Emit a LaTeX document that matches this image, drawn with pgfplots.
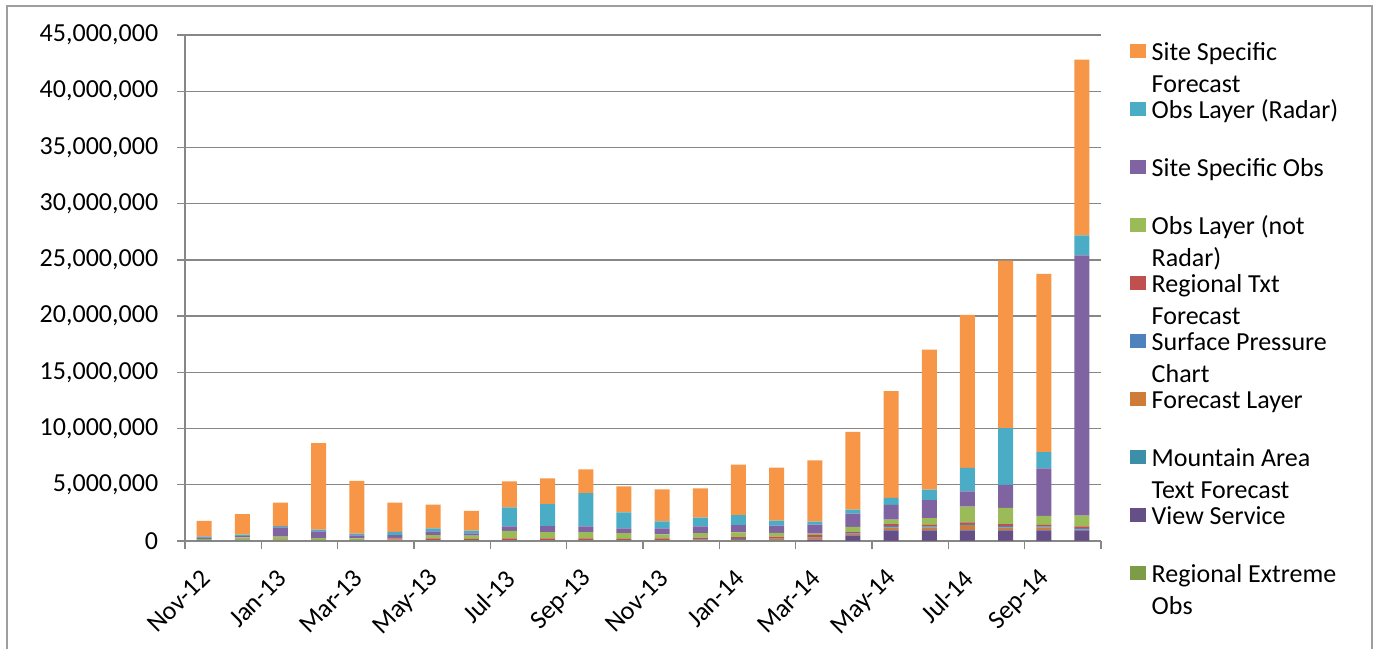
\documentclass[border=0pt]{standalone}
\usepackage{pgfplots}
\pgfplotsset{compat=1.18}
\usepackage{pgfplotstable}
\usepackage{fontspec}
\setmainfont{Carlito}
\definecolor{cSSF}{HTML}{F79646}
\definecolor{cRAD}{HTML}{4BACC6}
\definecolor{cSSO}{HTML}{8064A2}
\definecolor{cONR}{HTML}{9BBB59}
\definecolor{cRT}{HTML}{C0504D}
\definecolor{cSP}{HTML}{4F81BD}
\definecolor{cFL}{HTML}{D07C39}
\definecolor{cMNT}{HTML}{3B8FA6}
\definecolor{cVIEW}{HTML}{664F87}
\definecolor{cRE}{HTML}{7E9B48}
\definecolor{cGrid}{HTML}{878787}
\pgfplotstableread{
x  re    view  mnt   fl    sp    rt    onr   sso    rad   ssf
0  0.02  0     0.01  0.03  0.02  0.02  0.10  0.12   0.10  1.37
1  0.02  0     0.01  0.03  0.03  0.03  0.20  0.12   0.12  1.84
2  0.02  0     0.01  0.05  0.02  0.03  0.25  0.83   0.12  2.08
3  0.02  0     0.01  0.03  0.02  0.03  0.15  0.60   0.15  7.70
4  0.02  0     0.01  0.03  0.02  0.03  0.12  0.27   0.15  4.70
5  0.02  0     0.02  0.08  0.03  0.08  0.05  0.24   0.30  2.60
6  0.02  0     0.01  0.03  0.02  0.15  0.30  0.33   0.27  2.10
7  0.02  0     0.01  0.03  0.02  0.10  0.30  0.20   0.24  1.75
8  0.02  0     0.01  0.03  0.02  0.15  0.68  0.39   1.70  2.30
9  0.02  0     0.01  0.03  0.02  0.15  0.56  0.53   1.96  2.30
10 0.02  0     0.01  0.03  0.02  0.15  0.56  0.50   2.97  2.10
11 0.02  0     0.01  0.03  0.02  0.10  0.53  0.42   1.42  2.30
12 0.02  0     0.01  0.03  0.02  0.15  0.36  0.53   0.62  2.85
13 0.02  0     0.01  0.08  0.04  0.15  0.39  0.62   0.77  2.60
14 0.02  0     0.02  0.05  0.10  0.15  0.42  0.65   0.89  4.50
15 0.02  0     0.02  0.15  0.05  0.15  0.33  0.65   0.45  4.70
16 0.02  0.10  0.02  0.15  0.05  0.20  0.12  0.80   0.27  5.45
17 0.02  0.45  0.05  0.10  0.06  0.12  0.45  1.19   0.36  6.90
18 0.02  0.92  0.05  0.20  0.15  0.15  0.42  1.30   0.62  9.50
19 0.02  0.92  0.05  0.20  0.10  0.15  0.60  1.60   0.92  12.45
20 0.02  0.92  0.05  0.42  0.12  0.13  1.40  1.36   2.08  13.60
21 0.02  0.92  0.05  0.20  0.15  0.15  1.45  2.05   5.04  14.90
22 0.02  0.92  0.05  0.20  0.10  0.15  0.80  4.21   1.45  15.85
23 0.02  0.92  0.03  0.05  0.13  0.15  0.95  23.15  1.78  15.62
}\data
\newcommand{\lentry}[1]{\smash{\begin{tabular}[t]{@{}l@{}}#1\end{tabular}}}
\begin{document}
\fontsize{26bp}{32bp}\selectfont
\begin{tikzpicture}
\useasboundingbox (0,0) rectangle (1381bp,649bp);
\draw[color=black!38, line width=2bp] (7.3bp,-5bp) -- (7.3bp,643.3bp) -- (1372bp,643.3bp) -- (1372bp,-5bp);
\begin{axis}[
  at={(185bp,108bp)}, anchor=south west,
  scale only axis, width=916bp, height=506bp,
  ybar stacked, bar width=15bp,
  xmin=-0.5, xmax=23.5, ymin=0, ymax=45,
  axis x line*=bottom, axis y line*=left,
  axis line style={cGrid, line width=1.3bp},
  ymajorgrids, grid style={cGrid, line width=1.3bp},
  ytick={0,5,...,45},
  yticklabels={0,{5,000,000},{10,000,000},{15,000,000},{20,000,000},{25,000,000},{30,000,000},{35,000,000},{40,000,000},{45,000,000}},
  xtick={0,2,...,22},
  xticklabels={Nov-12,Jan-13,Mar-13,May-13,Jul-13,Sep-13,Nov-13,Jan-14,Mar-14,May-14,Jul-14,Sep-14},
  minor xtick={-0.5,1.5,...,23.5},
  tick align=outside, major tick length=8bp, minor tick length=8bp,
  major x tick style={draw=none},
  minor x tick style={cGrid, line width=1.3bp},
  ytick style={cGrid, line width=1.3bp},
  tick label style={font=\fontsize{26bp}{32bp}\selectfont, text=black},
  yticklabel style={xshift=-10bp},
  xticklabel style={rotate=45, anchor=east, xshift=-8bp, yshift=-19bp},
  every axis plot post/.append style={draw=none, legend image code/.code={\fill[##1] (0bp,2bp) rectangle (15.5bp,16bp);}},
  reverse legend,
  legend style={draw=none, fill=none, at={(1.0317,1.0296)}, anchor=north west,
    inner sep=0pt, row sep=0pt, column sep=6bp,
    nodes={inner sep=0pt, text height=40bp, text depth=18bp},
    cells={anchor=base west},
    font=\fontsize{26bp}{32bp}\selectfont},
]
\addplot[fill=cRE]   table[x=x,y=re]   {\data};
\addplot[fill=cVIEW] table[x=x,y=view] {\data};
\addplot[fill=cMNT]  table[x=x,y=mnt]  {\data};
\addplot[fill=cFL]   table[x=x,y=fl]   {\data};
\addplot[fill=cSP]   table[x=x,y=sp]   {\data};
\addplot[fill=cRT]   table[x=x,y=rt]   {\data};
\addplot[fill=cONR]  table[x=x,y=onr]  {\data};
\addplot[fill=cSSO]  table[x=x,y=sso]  {\data};
\addplot[fill=cRAD]  table[x=x,y=rad]  {\data};
\addplot[fill=cSSF]  table[x=x,y=ssf]  {\data};
\legend{\lentry{Regional Extreme\\Obs},\lentry{View Service},\lentry{Mountain Area\\Text Forecast},\lentry{Forecast Layer},\lentry{Surface Pressure\\Chart},\lentry{Regional Txt\\Forecast},\lentry{Obs Layer (not\\Radar)},\lentry{Site Specific Obs},\lentry{Obs Layer (Radar)},\lentry{Site Specific\\Forecast}}
\end{axis}
\end{tikzpicture}
\end{document}
